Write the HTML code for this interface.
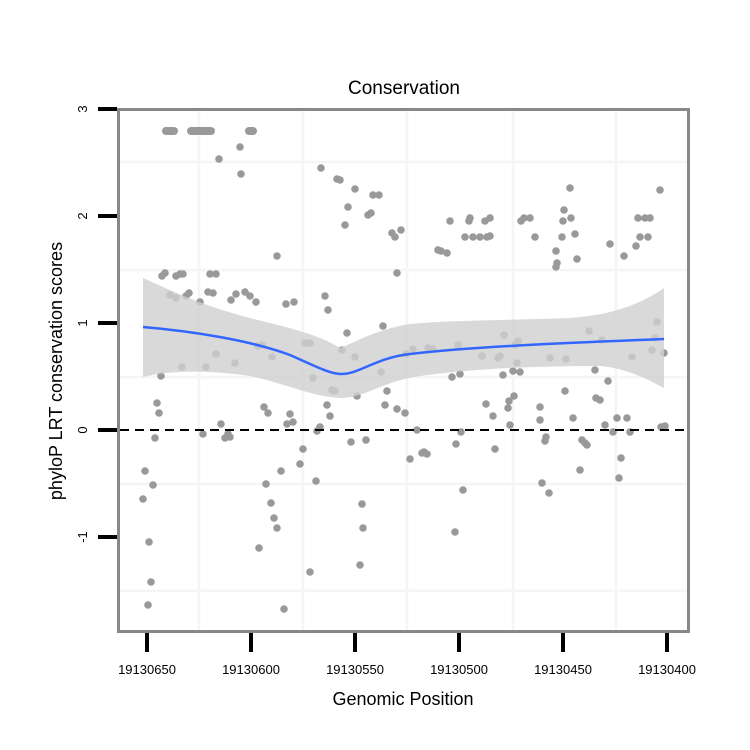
<!DOCTYPE html>
<html><head><meta charset="utf-8"><style>
html,body{margin:0;padding:0;background:#fff}
svg{display:block;font-family:"Liberation Sans",sans-serif}
</style></head><body>
<svg width="750" height="750" viewBox="0 0 750 750" xmlns="http://www.w3.org/2000/svg">
<rect width="750" height="750" fill="#fff"/>
<g stroke="#f5f5f5" stroke-width="2.5">
<line x1="199" y1="110" x2="199" y2="631"/><line x1="303" y1="110" x2="303" y2="631"/>
<line x1="407" y1="110" x2="407" y2="631"/><line x1="513" y1="110" x2="513" y2="631"/>
<line x1="616" y1="110" x2="616" y2="631"/>
<line x1="119" y1="162" x2="688" y2="162"/><line x1="119" y1="270" x2="688" y2="270"/>
<line x1="119" y1="377" x2="688" y2="377"/><line x1="119" y1="484" x2="688" y2="484"/>
<line x1="119" y1="591" x2="688" y2="591"/>
</g>
<g fill="#999">
<rect x="162" y="127" width="16" height="8" rx="4"/><rect x="187" y="127" width="28" height="8" rx="4"/><rect x="245" y="127" width="12" height="8" rx="4"/>
</g>
<path fill="none" stroke="#999" stroke-width="7.6" stroke-linecap="round" d="M143 499h0M145 471h0M149 542h0M151 582h0M153 485h0M148 605h0M155 438h0M157 403h0M159 413h0M161 376h0M162 276h0M165 273h0M170 295h0M176 298h0M176 276h0M180 274h0M183 274h0M186 296h0M189 293h0M182 367h0M200 302h0M206 367h0M203 434h0M210 274h0M216 274h0M208 292h0M213 293h0M216 354h0M219 159h0M221 424h0M228 434h0M225 438h0M230 437h0M231 300h0M235 363h0M236 294h0M241 174h0M240 147h0M245 292h0M250 296h0M256 302h0M258 346h0M262 345h0M259 548h0M264 407h0M268 413h0M266 484h0M271 503h0M274 518h0M277 528h0M272 357h0M277 256h0M281 471h0M284 609h0M286 304h0M287 424h0M290 414h0M294 302h0M293 422h0M300 464h0M303 449h0M305 343h0M310 343h0M313 378h0M310 572h0M316 481h0M317 431h0M320 427h0M321 168h0M325 296h0M327 405h0M328 310h0M330 416h0M332 390h0M335 391h0M337 179h0M340 180h0M342 350h0M345 225h0M347 333h0M348 207h0M351 442h0M355 189h0M355 357h0M357 396h0M360 565h0M362 504h0M363 528h0M366 440h0M368 215h0M371 213h0M373 195h0M379 195h0M381 372h0M383 326h0M385 405h0M387 391h0M392 233h0M395 237h0M397 409h0M397 273h0M401 230h0M405 413h0M406 354h0M410 459h0M413 349h0M417 430h0M422 453h0M424 452h0M427 454h0M428 348h0M433 349h0M438 250h0M441 251h0M447 253h0M450 221h0M452 377h0M455 532h0M456 444h0M458 345h0M461 432h0M460 374h0M463 490h0M465 237h0M469 221h0M470 218h0M473 237h0M480 237h0M482 356h0M485 221h0M486 404h0M487 237h0M490 236h0M490 218h0M493 416h0M495 449h0M498 358h0M500 356h0M503 375h0M504 335h0M508 408h0M509 401h0M510 425h0M513 371h0M514 396h0M515 345h0M517 363h0M518 341h0M520 372h0M521 221h0M524 218h0M530 218h0M535 237h0M540 407h0M540 420h0M542 483h0M546 437h0M545 441h0M549 493h0M550 358h0M556 267h0M556 251h0M557 263h0M562 237h0M563 221h0M564 210h0M565 391h0M566 359h0M570 188h0M571 218h0M573 418h0M575 234h0M577 259h0M580 470h0M582 440h0M585 443h0M587 445h0M589 331h0M595 370h0M596 398h0M600 400h0M602 340h0M605 425h0M608 381h0M610 244h0M613 432h0M617 418h0M619 478h0M621 458h0M624 256h0M627 418h0M630 432h0M632 357h0M636 246h0M638 218h0M640 237h0M645 218h0M648 237h0M650 218h0M652 350h0M655 338h0M657 322h0M660 190h0M661 427h0M664 353h0M665 426h0"/>
<path d="M143,278 C170,290 200,305 250,318 C290,328 320,335 340,348 C360,340 375,330 410,324 C450,320 520,320 570,318 C610,315 640,305 664,288 L664,388 C645,378 625,368 600,366 C540,366 480,368 420,376 C380,382 365,398 340,398 C310,396 290,385 250,376 C210,370 170,370 143,377 Z" fill="#cfcfcf" fill-opacity="0.8"/>
<path d="M143,327 C190,331 250,340 290,355 C315,366 330,374 341,374 C360,374 375,358 410,354 C470,347 560,343 664,339" fill="none" stroke="#3366ff" stroke-width="2.5"/>
<line x1="120" y1="430" x2="688" y2="430" stroke="#000" stroke-width="2" stroke-dasharray="9,6"/>
<rect x="118.5" y="109.5" width="570" height="522" fill="none" stroke="#888" stroke-width="3"/>
<g stroke="#000" stroke-width="4">
<line x1="98" y1="109" x2="117" y2="109"/><line x1="98" y1="216" x2="117" y2="216"/>
<line x1="98" y1="323" x2="117" y2="323"/><line x1="98" y1="430" x2="117" y2="430"/>
<line x1="98" y1="537" x2="117" y2="537"/>
<line x1="147" y1="633" x2="147" y2="652"/><line x1="251" y1="633" x2="251" y2="652"/>
<line x1="355" y1="633" x2="355" y2="652"/><line x1="459" y1="633" x2="459" y2="652"/>
<line x1="563" y1="633" x2="563" y2="652"/><line x1="667" y1="633" x2="667" y2="652"/>
</g>
<g font-size="13" fill="#000" text-anchor="middle">
<text transform="translate(87,109) rotate(-90)">3</text>
<text transform="translate(87,216) rotate(-90)">2</text>
<text transform="translate(87,323) rotate(-90)">1</text>
<text transform="translate(87,430) rotate(-90)">0</text>
<text transform="translate(87,537) rotate(-90)">-1</text>
<text x="147" y="674">19130650</text><text x="251" y="674">19130600</text>
<text x="355" y="674">19130550</text><text x="459" y="674">19130500</text>
<text x="563" y="674">19130450</text><text x="667" y="674">19130400</text>
</g>
<text x="404" y="94" font-size="19" text-anchor="middle">Conservation</text>
<text x="403" y="705" font-size="18" text-anchor="middle">Genomic Position</text>
<text transform="translate(62,371) rotate(-90)" font-size="18" text-anchor="middle">phyloP LRT conservation scores</text>
</svg>
</body></html>
